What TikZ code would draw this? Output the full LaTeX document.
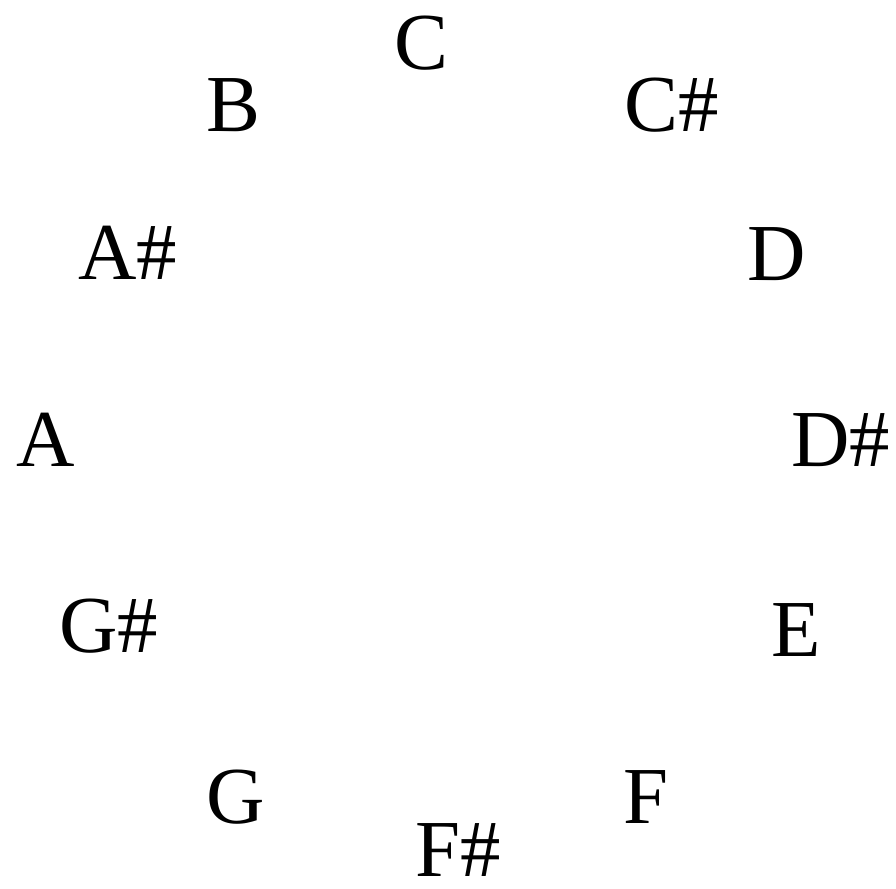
\documentclass[tikz,border=0pt]{standalone}
\usepackage{fontspec}
\setmainfont{Liberation Serif}
\usepackage{tikz}
\tikzset{
  pitch/.style={font=\fontsize{23}{28}\selectfont, inner sep=0pt, text=black}
}
\begin{document}
\begin{tikzpicture}[x=0.01cm,y=-0.01cm]
  \useasboundingbox[fill=white] (0,0) rectangle (896,889);
  \node[pitch] (nC)  at (421,43)  {C};
  \node[pitch] (nCs) at (672,105) {C\#};
  \node[pitch] (nD)  at (777,254) {D};
  \node[pitch] (nDs) at (841,440) {D\#};
  \node[pitch] (nE)  at (796,630) {E};
  \node[pitch] (nF)  at (646,797) {F};
  \node[pitch] (nFs) at (458,850) {F\#};
  \node[pitch] (nG)  at (236,797) {G};
  \node[pitch] (nGs) at (109,626) {G\#};
  \node[pitch] (nA)  at (46,440)  {A};
  \node[pitch] (nAs) at (128,253) {A\#};
  \node[pitch] (nB)  at (233,105) {B};
\end{tikzpicture}
\end{document}
